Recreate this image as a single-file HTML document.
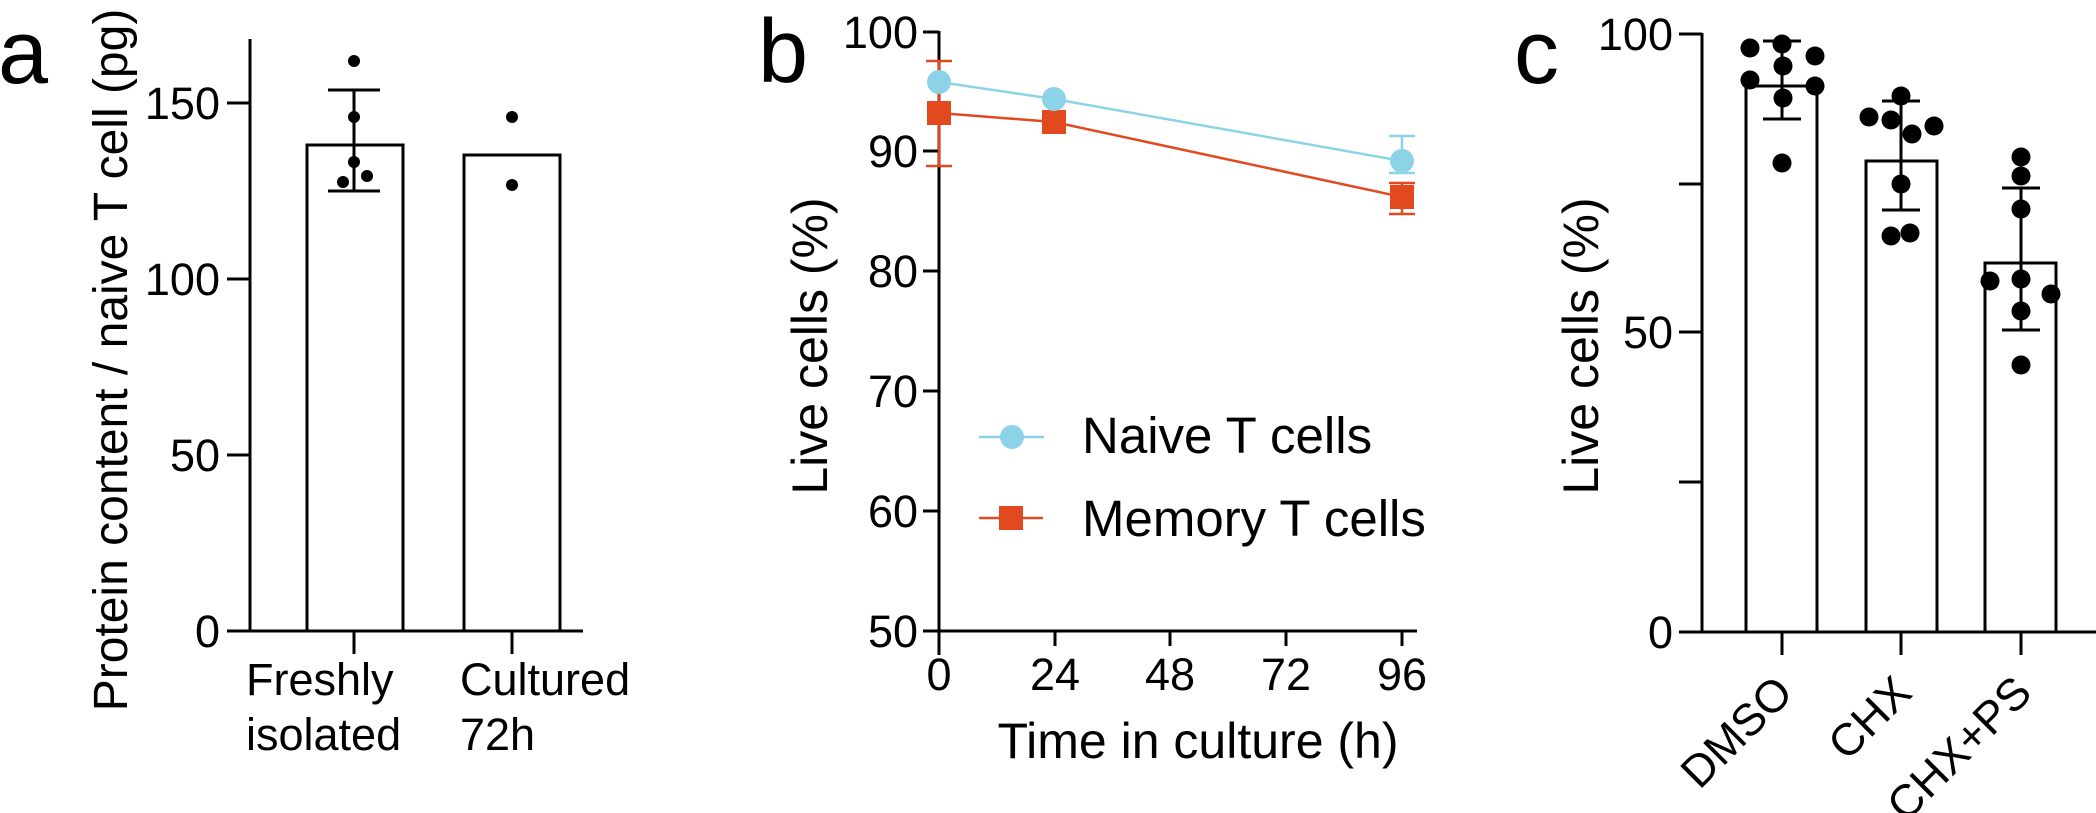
<!DOCTYPE html>
<html><head><meta charset="utf-8"><style>
html,body{margin:0;padding:0;background:#fff;}
svg{display:block;font-family:"Liberation Sans",Arial,sans-serif;}
</style></head><body>
<svg width="2096" height="813" viewBox="0 0 2096 813" xmlns="http://www.w3.org/2000/svg">
<rect width="2096" height="813" fill="#fff"/>
<!-- Panel a -->
<text x="-2" y="83" font-size="90">a</text>
<g stroke="#000" stroke-width="3" fill="none">
  <line x1="250" y1="39" x2="250" y2="632"/>
  <line x1="227" y1="631" x2="583" y2="631"/>
  <line x1="227" y1="103" x2="250" y2="103"/>
  <line x1="227" y1="279" x2="250" y2="279"/>
  <line x1="227" y1="455" x2="250" y2="455"/>
  <line x1="354" y1="631" x2="354" y2="654"/>
  <line x1="512" y1="631" x2="512" y2="654"/>
  <rect x="307" y="145" width="96" height="486"/>
  <rect x="464" y="155" width="96" height="476"/>
  <line x1="354" y1="90" x2="354" y2="191"/>
  <line x1="328" y1="90" x2="380" y2="90"/>
  <line x1="328" y1="191" x2="380" y2="191"/>
</g>
<g fill="#000">
  <ellipse cx="354" cy="61" rx="6" ry="6"/>
  <ellipse cx="354" cy="117" rx="6" ry="6"/>
  <ellipse cx="354" cy="162" rx="6" ry="6"/>
  <ellipse cx="343" cy="182" rx="6" ry="6"/>
  <ellipse cx="367" cy="176" rx="6" ry="6"/>
  <ellipse cx="512" cy="117" rx="6" ry="6"/>
  <ellipse cx="512" cy="185" rx="6" ry="6"/>
</g>
<g font-size="45" text-anchor="end">
  <text x="220" y="119">150</text>
  <text x="220" y="295">100</text>
  <text x="220" y="471">50</text>
  <text x="220" y="647">0</text>
</g>
<g font-size="45">
  <text x="246" y="695">Freshly</text>
  <text x="246" y="750">isolated</text>
  <text x="460" y="695">Cultured</text>
  <text x="460" y="750">72h</text>
</g>
<text transform="translate(127,360) rotate(-90)" font-size="48" text-anchor="middle">Protein content / naive T cell (pg)</text>

<!-- Panel b -->
<text x="758" y="82" font-size="90">b</text>
<g stroke="#000" stroke-width="3" fill="none">
  <line x1="939" y1="31" x2="939" y2="655"/>
  <line x1="937" y1="631" x2="1417" y2="631"/>
  <line x1="923" y1="32" x2="939" y2="32"/>
  <line x1="923" y1="151" x2="939" y2="151"/>
  <line x1="923" y1="271" x2="939" y2="271"/>
  <line x1="923" y1="391" x2="939" y2="391"/>
  <line x1="923" y1="511" x2="939" y2="511"/>
  <line x1="923" y1="631" x2="939" y2="631"/>
  <line x1="1055" y1="631" x2="1055" y2="646"/>
  <line x1="1170" y1="631" x2="1170" y2="646"/>
  <line x1="1286" y1="631" x2="1286" y2="646"/>
  <line x1="1402" y1="631" x2="1402" y2="646"/>
</g>
<g font-size="45" text-anchor="end">
  <text x="918" y="48">100</text>
  <text x="918" y="167">90</text>
  <text x="918" y="287">80</text>
  <text x="918" y="407">70</text>
  <text x="918" y="527">60</text>
  <text x="918" y="647">50</text>
</g>
<g font-size="45" text-anchor="middle">
  <text x="939" y="690">0</text>
  <text x="1055" y="690">24</text>
  <text x="1170" y="690">48</text>
  <text x="1286" y="690">72</text>
  <text x="1402" y="690">96</text>
</g>
<text x="1198" y="758" font-size="50" text-anchor="middle">Time in culture (h)</text>
<text transform="translate(827,346) rotate(-90)" font-size="50" text-anchor="middle">Live cells (%)</text>
<!-- series -->
<g stroke="#e2491f" stroke-width="2.5" fill="none">
  <polyline points="939,113 1054,122 1402,197"/>
  <line x1="939" y1="61" x2="939" y2="166"/>
  <line x1="926" y1="61" x2="952" y2="61"/>
  <line x1="926" y1="166" x2="952" y2="166"/>
  <line x1="1402" y1="183" x2="1402" y2="214"/>
  <line x1="1389" y1="183" x2="1415" y2="183"/>
  <line x1="1389" y1="214" x2="1415" y2="214"/>
  <line x1="979" y1="518" x2="1043" y2="518"/>
</g>
<g stroke="#8dd3e7" stroke-width="2.5" fill="none">
  <polyline points="939,82 1054,99 1402,161"/>
  <line x1="1402" y1="136" x2="1402" y2="173"/>
  <line x1="1389" y1="136" x2="1415" y2="136"/>
  <line x1="1389" y1="173" x2="1415" y2="173"/>
  <line x1="979" y1="437" x2="1044" y2="437"/>
</g>
<g fill="#e2491f">
  <rect x="927" y="101" width="24" height="24"/>
  <rect x="1042" y="110" width="24" height="24"/>
  <rect x="1390" y="185" width="24" height="24"/>
  <rect x="999" y="506" width="24" height="24"/>
</g>
<g fill="#8dd3e7">
  <circle cx="939" cy="82" r="12"/>
  <circle cx="1054" cy="99" r="12"/>
  <circle cx="1402" cy="161" r="12"/>
  <circle cx="1012" cy="437" r="12"/>
</g>
<g font-size="51">
  <text x="1082" y="453">Naive T cells</text>
  <text x="1082" y="536">Memory T cells</text>
</g>

<!-- Panel c -->
<text x="1514" y="83" font-size="90">c</text>
<g stroke="#000" stroke-width="3" fill="none">
  <line x1="1702" y1="33" x2="1702" y2="633"/>
  <line x1="1679" y1="632" x2="2096" y2="632"/>
  <line x1="1679" y1="34" x2="1702" y2="34"/>
  <line x1="1679" y1="184" x2="1702" y2="184"/>
  <line x1="1679" y1="332" x2="1702" y2="332"/>
  <line x1="1679" y1="482" x2="1702" y2="482"/>
  <line x1="1782" y1="632" x2="1782" y2="655"/>
  <line x1="1901" y1="632" x2="1901" y2="655"/>
  <line x1="2021" y1="632" x2="2021" y2="655"/>
  <rect x="1746" y="86" width="71" height="546"/>
  <rect x="1866" y="161" width="71" height="471"/>
  <rect x="1985" y="263" width="71" height="369"/>
  <line x1="1782" y1="41" x2="1782" y2="119"/>
  <line x1="1763" y1="41" x2="1801" y2="41"/>
  <line x1="1763" y1="119" x2="1801" y2="119"/>
  <line x1="1901" y1="101" x2="1901" y2="210"/>
  <line x1="1882" y1="101" x2="1920" y2="101"/>
  <line x1="1882" y1="210" x2="1920" y2="210"/>
  <line x1="2021" y1="188" x2="2021" y2="330"/>
  <line x1="2002" y1="188" x2="2040" y2="188"/>
  <line x1="2002" y1="330" x2="2040" y2="330"/>
</g>
<g fill="#000">
  <circle cx="1750" cy="48" r="9.5"/><circle cx="1782" cy="44" r="9.5"/><circle cx="1815" cy="56" r="9.5"/>
  <circle cx="1783" cy="66" r="9.5"/><circle cx="1750" cy="80" r="9.5"/><circle cx="1815" cy="86" r="9.5"/>
  <circle cx="1783" cy="98" r="9.5"/><circle cx="1782" cy="163" r="9.5"/>
  <circle cx="1869" cy="117" r="9.5"/><circle cx="1891" cy="120" r="9.5"/><circle cx="1912" cy="134" r="9.5"/>
  <circle cx="1934" cy="126" r="9.5"/><circle cx="1901" cy="96" r="9.5"/><circle cx="1901" cy="184" r="9.5"/>
  <circle cx="1891" cy="236" r="9.5"/><circle cx="1910" cy="233" r="9.5"/>
  <circle cx="2021" cy="157" r="9.5"/><circle cx="2021" cy="176" r="9.5"/><circle cx="2021" cy="209" r="9.5"/>
  <circle cx="1990" cy="281" r="9.5"/><circle cx="2021" cy="279" r="9.5"/><circle cx="2051" cy="294" r="9.5"/>
  <circle cx="2021" cy="311" r="9.5"/><circle cx="2021" cy="365" r="9.5"/>
</g>
<g font-size="45" text-anchor="end">
  <text x="1673" y="50">100</text>
  <text x="1673" y="348">50</text>
  <text x="1673" y="648">0</text>
</g>
<g font-size="45" text-anchor="end">
  <text transform="translate(1795,695) rotate(-45)">DMSO</text>
  <text transform="translate(1914,695) rotate(-45)">CHX</text>
  <text transform="translate(2034,695) rotate(-45)">CHX+PS</text>
</g>
<text transform="translate(1598,346) rotate(-90)" font-size="50" text-anchor="middle">Live cells (%)</text>
</svg>
</body></html>
